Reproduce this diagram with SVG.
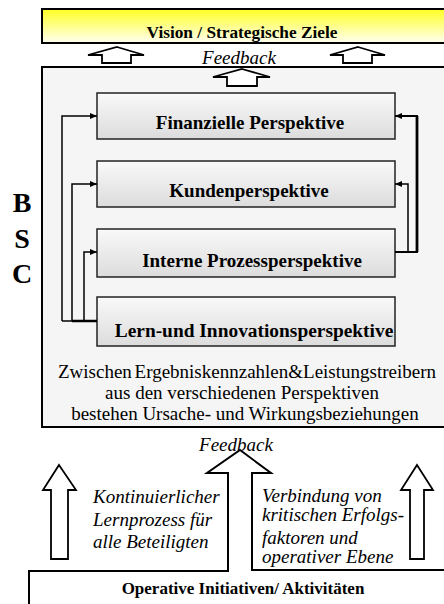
<svg xmlns="http://www.w3.org/2000/svg" width="444" height="604" viewBox="0 0 444 604">
<defs>
<linearGradient id="gY" x1="0" y1="0" x2="0" y2="1">
<stop offset="0" stop-color="#ffff22"/>
<stop offset="1" stop-color="#fffff2"/>
</linearGradient>
<linearGradient id="gP" x1="0" y1="0" x2="0" y2="1">
<stop offset="0" stop-color="#f9f9f9"/>
<stop offset="1" stop-color="#dcdcdc"/>
</linearGradient>
<marker id="ah" markerUnits="userSpaceOnUse" markerWidth="8" markerHeight="8" refX="7" refY="4" orient="auto">
<path d="M0,1 L7,4 L0,7 Z" fill="#000"/>
</marker>
</defs>
<style>
text{font-family:"Liberation Serif","Times New Roman",serif;fill:#000}
.b{font-weight:bold}
.i{font-style:italic}
.pb{fill:url(#gP);stroke:#222;stroke-width:1.5}
.ar{fill:#fff;stroke:#000;stroke-width:1.8;stroke-linejoin:miter}
.cn{fill:none;stroke:#000;stroke-width:1.5}
</style>

<g id="vision">
<rect x="42" y="9" width="410" height="34" fill="url(#gY)" stroke="#000" stroke-width="2"/>
<text class="b" x="242" y="38" font-size="17.3" text-anchor="middle">Vision / Strategische Ziele</text>
</g>

<g id="feedback-top">
<polygon class="ar" points="117,47 144,55 131,55 131,63 102,63 102,55 88,55"/>
<polygon class="ar" points="358,47 385,55 372,55 372,63 343,63 343,55 330,55"/>
<text class="i" x="239" y="64" font-size="19" text-anchor="middle">Feedback</text>
</g>

<g id="bsc">
<rect x="42" y="67" width="410" height="360" fill="#f5f5f5" stroke="#000" stroke-width="2"/>
<polygon class="ar" points="242,69 270,77 257,77 257,86 227,86 227,77 213,77"/>
<text class="b" x="22" y="212" font-size="28" text-anchor="middle">B</text>
<text class="b" x="22" y="247.5" font-size="28" text-anchor="middle">S</text>
<text class="b" x="22" y="283" font-size="28" text-anchor="middle">C</text>
<text x="247" y="378" font-size="19" text-anchor="middle" word-spacing="-2">Zwischen Ergebniskennzahlen&amp;Leistungstreibern</text>
<text x="242" y="399" font-size="19" text-anchor="middle">aus den verschiedenen Perspektiven</text>
<text x="245" y="419.5" font-size="19" text-anchor="middle">bestehen Ursache- und Wirkungsbeziehungen</text>
</g>

<g id="finanziell">
<rect class="pb" x="97" y="93" width="298" height="46"/>
<text class="b" x="250" y="128.5" font-size="19" text-anchor="middle">Finanzielle Perspektive</text>
</g>
<g id="kunden">
<rect class="pb" x="97" y="161" width="298" height="46"/>
<text class="b" x="249" y="197" font-size="19" text-anchor="middle">Kundenperspektive</text>
</g>
<g id="prozess">
<rect class="pb" x="97" y="229" width="298" height="48"/>
<text class="b" x="252" y="267" font-size="19" text-anchor="middle">Interne Prozessperspektive</text>
</g>
<g id="lernen">
<rect class="pb" x="97" y="297" width="298" height="49"/>
<text class="b" x="254" y="337" font-size="19.4" text-anchor="middle">Lern-und Innovationsperspektive</text>
</g>

<g id="connectors">
<path class="cn" d="M62,321 V116 H97" marker-end="url(#ah)"/>
<path class="cn" d="M72,321 V184 H97" marker-end="url(#ah)"/>
<path class="cn" d="M84,321 V252 H97" marker-end="url(#ah)"/>
<path class="cn" d="M62,321 H97"/>
<path d="M72,321 H97" stroke="#000" stroke-width="2.5"/>
<path class="cn" d="M395,252 H417 V116 H395" marker-end="url(#ah)" style="stroke-width:2"/>
<path d="M417,252 V116" stroke="#000" stroke-width="2.8"/>
<path class="cn" d="M408,252 V184 H395" marker-end="url(#ah)"/>
</g>

<g id="operativ">
<polygon points="29,610 29,571 228,571 228,473 207,473 240,450 271,473 252,473 252,570 452,570 452,610" fill="#fff" stroke="#000" stroke-width="2"/>
<text class="i" x="236" y="451" font-size="19" text-anchor="middle">Feedback</text>
<text class="b" x="243" y="594" font-size="17" text-anchor="middle">Operative Initiativen/ Aktivitäten</text>
</g>

<g id="lernprozess">
<polygon class="ar" points="59,465 76,490 68,490 68,559 51,559 51,490 43,490"/>
<text class="i" x="93" y="503" font-size="19">Kontinuierlicher</text>
<text class="i" x="93" y="526" font-size="19">Lernprozess für</text>
<text class="i" x="93" y="548" font-size="19">alle Beteiligten</text>
</g>

<g id="verbindung">
<polygon class="ar" points="417,465 433,490 424,490 424,559 410,559 410,490 401,490"/>
<text class="i" x="262" y="502" font-size="19">Verbindung von</text>
<text class="i" x="262" y="521" font-size="19">kritischen Erfolgs-</text>
<text class="i" x="262" y="544" font-size="19">faktoren und</text>
<text class="i" x="262" y="563" font-size="19">operativer Ebene</text>
</g>
</svg>
